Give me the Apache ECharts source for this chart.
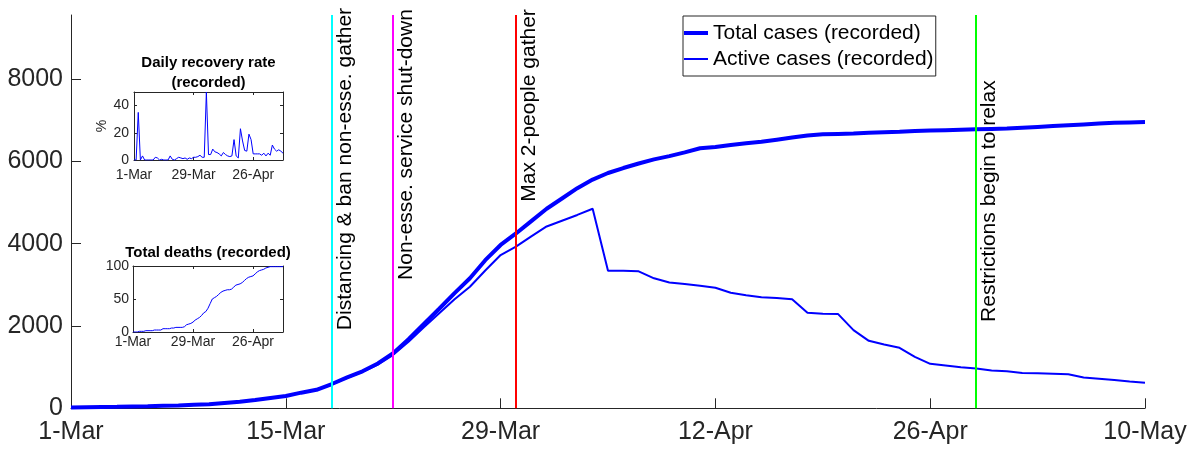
<!DOCTYPE html>
<html>
<head>
<meta charset="utf-8">
<script src="https://cdn.jsdelivr.net/npm/echarts@6/dist/echarts.min.js"></script>
<style>
html,body{margin:0;padding:0;background:#fff;}
#chart{width:1196px;height:451px;}
</style>
</head>
<body>
<div id="chart"></div>
<script>
// ---- data ----
const dateTickLabels = ['1-Mar', '15-Mar', '29-Mar', '12-Apr', '26-Apr', '10-May'];
const insetTickLabels = ['1-Mar', '29-Mar', '26-Apr'];
const yTicks = [0, 2000, 4000, 6000, 8000];

const totalCases = [20, 25, 30, 35, 45, 50, 60, 70, 85, 100,
  130, 160, 200, 250, 300, 380, 450, 590, 750, 900,
  1090, 1340, 1680, 2050, 2420, 2800, 3160, 3600, 3970, 4250,
  4550, 4850, 5100, 5350, 5560, 5720, 5840, 5950, 6050, 6130,
  6220, 6320, 6350, 6400, 6440, 6480, 6530, 6580, 6630, 6660,
  6670, 6680, 6700, 6710, 6720, 6740, 6750, 6760, 6770, 6780,
  6790, 6800, 6820, 6840, 6860, 6880, 6900, 6920, 6940, 6950, 6960];

const activeCases = [20, 25, 28, 33, 43, 48, 58, 68, 83, 98,
  127, 157, 197, 246, 296, 375, 445, 580, 740, 885,
  1060, 1300, 1620, 1970, 2310, 2650, 2955, 3350, 3725, 3930,
  4180, 4420, 4560, 4700, 4850, 3345, 3345, 3330, 3160, 3060,
  3020, 2980, 2930, 2810, 2750, 2700, 2680, 2650, 2320, 2300,
  2290, 1900, 1640, 1550, 1470, 1250, 1080, 1040, 1000, 970,
  920, 900, 860, 850, 840, 830, 750, 720, 690, 650, 620];

const recoveryRate = [0, 0, 35, 0, 3, 0, 0, 0, 0, 0,
  2, 1.5, 0, 0.5, 0, 0, 0, 3, 0.5, 0,
  1, 2, 1.5, 1, 1.5, 0.5, 1.5, 1, 2, 2,
  2.5, 3.5, 2, 2, 50, 4, 4, 8, 6, 5.5,
  4.5, 3, 5.5, 4, 3, 2.5, 3, 15, 3, 1.5,
  23, 14, 7, 6.5, 19, 15, 4.5, 4.5, 4.5, 4.5,
  3.5, 5, 3, 5, 3.5, 11, 8, 6.5, 7.5, 6.5, 5];

const totalDeaths = [0, 0, 0, 1, 1, 1, 2, 2, 2, 2,
  3, 3, 3, 3, 5, 5, 5, 5, 6, 6,
  7, 7, 7, 7, 8, 11, 12, 13, 15, 18,
  20, 22, 25, 29, 31, 36, 43, 50, 52, 54,
  57, 60, 62, 63, 64, 64, 65, 68, 71, 72,
  73, 75, 78, 81, 83, 84, 85, 88, 91, 93,
  94, 95, 97, 98, 99, 99, 99, 99, 99, 99, 99];

const eventDays = [17, 21, 29, 59];
const eventLabels = ['Distancing & ban non-esse. gather', 'Non-esse. service shut-down',
  'Max 2-people gather', 'Restrictions begin to relax'];
const seriesNames = ['Total cases (recorded)', 'Active cases (recorded)'];

// ---- styling / layout (not data) ----
const eventColors = ['#00ffff', '#ff00ff', '#ff0000', '#00ff00'];
const eventTextAnchorY = [1900, 3120, 5020, 2100];
const FONT = "'Liberation Sans', Arial, Helvetica, sans-serif";
const AX = '#262626';

const dayIdx = totalCases.map((_, i) => i);
const pairs = arr => arr.map((v, i) => [dayIdx[i], v]);

function mainX() {
  return {
    type: 'value', gridIndex: 0, min: 0, max: 70, interval: 14,
    axisLine: { show: true, onZero: false, lineStyle: { color: AX, width: 1 } },
    axisTick: { show: true, inside: true, length: 10, lineStyle: { color: AX } },
    axisLabel: { color: AX, fontSize: 25, fontFamily: FONT, margin: 11,
      formatter: v => dateTickLabels[Math.round(v / 14)] || '' },
    splitLine: { show: false }
  };
}
function insetX(grid, top, margin) {
  return {
    type: 'value', gridIndex: grid, min: 0, max: 70, interval: 28, position: top ? 'top' : 'bottom',
    axisLine: { show: true, onZero: false, lineStyle: { color: AX, width: 1 } },
    axisTick: { show: true, inside: true, length: 3, lineStyle: { color: AX } },
    axisLabel: { show: !top, color: AX, fontSize: 14, fontFamily: FONT, margin: margin,
      showMaxLabel: false,
      formatter: v => (v % 28 === 0 ? insetTickLabels[v / 28] : '') },
    splitLine: { show: false }
  };
}
function insetY(grid, right, max, interval, margin, name) {
  const o = {
    type: 'value', gridIndex: grid, min: 0, max: max, interval: interval, position: right ? 'right' : 'left',
    axisLine: { show: true, onZero: false, lineStyle: { color: AX, width: 1 } },
    axisTick: { show: true, inside: true, length: 3, lineStyle: { color: AX } },
    axisLabel: { show: !right, color: AX, fontSize: 14, fontFamily: FONT, margin: margin,
      showMaxLabel: max % interval === 0,
      formatter: v => (v % interval === 0 ? String(v) : '') },
    splitLine: { show: false }
  };
  if (name) {
    o.name = name; o.nameLocation = 'middle'; o.nameGap = 24; o.nameRotate = 90;
    o.nameTextStyle = { color: AX, fontSize: 14, fontFamily: FONT };
  }
  return o;
}

const chart = echarts.init(document.getElementById('chart'), null, { renderer: 'canvas' });

const legendText = { fontSize: 21, color: '#000', fontFamily: FONT, lineHeight: 24 };

const option = {
  animation: false,
  backgroundColor: '#fff',
  textStyle: { fontFamily: FONT },
  grid: [
    { left: 71, top: 15, width: 1074, height: 393.3, containLabel: false },
    { left: 134, top: 92, width: 149, height: 68, show: true, borderWidth: 0, backgroundColor: '#fff' },
    { left: 133, top: 266, width: 150, height: 66, show: true, borderWidth: 0, backgroundColor: '#fff' }
  ],
  xAxis: [
    mainX(),
    insetX(1, false, 8),
    insetX(1, true, 0),
    insetX(2, false, 3),
    insetX(2, true, 0)
  ],
  yAxis: [
    {
      type: 'value', gridIndex: 0, min: 0, max: 9560, interval: 2000,
      axisLine: { show: true, onZero: false, lineStyle: { color: AX, width: 1 } },
      axisTick: { show: true, inside: true, length: 10, lineStyle: { color: AX }, customValues: yTicks },
      axisLabel: { color: AX, fontSize: 25, fontFamily: FONT, margin: 8, customValues: yTicks,
        formatter: v => (v % 2000 === 0 ? String(v) : '') },
      splitLine: { show: false }
    },
    insetY(1, false, 50, 20, 5, '%'),
    insetY(1, true, 50, 20, 0),
    insetY(2, false, 100, 50, 4),
    insetY(2, true, 100, 50, 0)
  ],
  legend: [
    {
      data: [{ name: seriesNames[0], icon: 'rect' }],
      orient: 'vertical', left: 683, top: 16,
      itemWidth: 24, itemHeight: 4, itemGap: 2,
      padding: [5, 15, 31, 1],
      borderColor: AX, borderWidth: 1, backgroundColor: '#fff',
      textStyle: legendText, selectedMode: false, z: 10
    },
    {
      data: [{ name: seriesNames[1], icon: 'rect' }],
      orient: 'vertical', left: 683, top: 47,
      itemWidth: 24, itemHeight: 2, itemGap: 2,
      padding: [0, 4, 0, 1],
      textStyle: legendText, selectedMode: false, z: 11
    }
  ],
  graphic: [
    { type: 'text', x: 208.5, y: 53, z: 100,
      style: { text: 'Daily recovery rate\n(recorded)', align: 'center', verticalAlign: 'top',
        font: "bold 15px 'Liberation Sans', Arial, sans-serif", lineHeight: 20, fill: '#000' } },
    { type: 'text', x: 208, y: 243, z: 100,
      style: { text: 'Total deaths (recorded)', align: 'center', verticalAlign: 'top',
        font: "bold 15px 'Liberation Sans', Arial, sans-serif", lineHeight: 20, fill: '#000' } }
  ],
  series: [
    {
      name: 'Events', type: 'custom', xAxisIndex: 0, yAxisIndex: 0, z: 4,
      data: eventDays.map((d, i) => [d, eventTextAnchorY[i], i]),
      renderItem: function (params, api) {
        const p = api.coord([api.value(0), api.value(1)]);
        const i = api.value(2);
        return {
          type: 'text', x: p[0] + 2.5, y: p[1], rotation: Math.PI / 2,
          style: { text: eventLabels[i], font: "21px 'Liberation Sans', Arial, sans-serif",
            fill: '#000', align: 'left', verticalAlign: 'top' }
        };
      },
      markLine: {
        silent: true, symbol: ['none', 'none'], label: { show: false },
        data: eventDays.map((d, i) => ({ xAxis: d, lineStyle: { color: eventColors[i], width: 2, type: 'solid' } }))
      }
    },
    {
      name: seriesNames[0], type: 'line', xAxisIndex: 0, yAxisIndex: 0, z: 3,
      data: pairs(totalCases), symbol: 'none', showSymbol: false,
      lineStyle: { color: '#0000ff', width: 4 }, itemStyle: { color: '#0000ff' }
    },
    {
      name: seriesNames[1], type: 'line', xAxisIndex: 0, yAxisIndex: 0, z: 3,
      data: pairs(activeCases), symbol: 'none', showSymbol: false,
      lineStyle: { color: '#0000ff', width: 2 }, itemStyle: { color: '#0000ff' }
    },
    {
      name: 'Daily recovery rate', type: 'line', xAxisIndex: 1, yAxisIndex: 1, z: 6,
      data: pairs(recoveryRate), symbol: 'none', showSymbol: false, clip: true,
      lineStyle: { color: '#0000ff', width: 1 }
    },
    {
      name: 'Total deaths', type: 'line', xAxisIndex: 3, yAxisIndex: 3, z: 6,
      data: pairs(totalDeaths), symbol: 'none', showSymbol: false, clip: true,
      lineStyle: { color: '#0000ff', width: 1 }
    }
  ]
};
chart.setOption(option);
</script>
</body>
</html>
